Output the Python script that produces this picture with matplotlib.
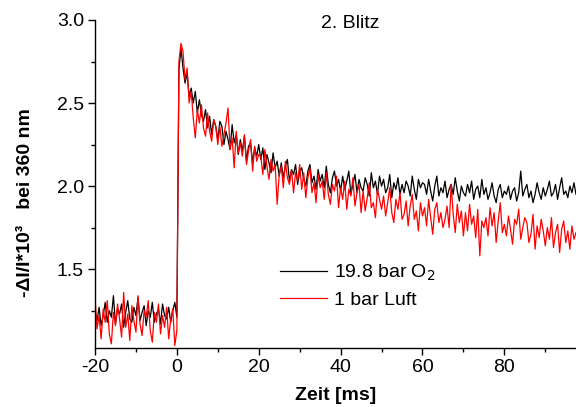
import numpy as np
import matplotlib
matplotlib.use("Agg")
import matplotlib.pyplot as plt
from matplotlib.ticker import MultipleLocator

plt.rcParams['font.family'] = ['Liberation Sans', 'DejaVu Sans']
plt.rcParams['axes.unicode_minus'] = False

# Sampling: 0.5 ms steps, flash at t = 0
dt = 0.5
t_start = -20.0

# Signal values in units of 1e-2 (i.e. 122 -> 1.22)
# Pre-flash baseline, t = -20 ... 0 ms
o2_pre = [124, 119, 127, 116, 122, 130, 118, 125, 121, 134,
          117, 126, 123, 129, 115, 124, 131, 120, 118, 127,
          122, 133, 119, 124, 128, 116, 125, 121, 130, 118,
          123, 126, 117, 129, 122, 120, 127, 118, 125, 130,
          121]
luft_pre = [133, 114, 122, 108, 126, 118, 131, 111, 105, 124,
            116, 129, 120, 109, 136, 115, 123, 107, 128, 119,
            112, 134, 117, 110, 125, 121, 131, 113, 106, 124,
            118, 129, 111, 122, 115, 127, 108, 120, 126, 104,
            113]

# After flash, t = 0.5 ... 97.5 ms
o2_post = [270, 283, 271, 262, 268, 254, 259, 250, 257, 244,
           252, 243, 239, 246, 235, 242, 231, 240, 236, 228,
           239, 236, 225, 233, 228, 222, 237, 226, 231, 219,
           228, 221, 230, 215, 224, 226, 214, 223, 218, 225,
           216, 223, 210, 219, 214, 208, 220, 211, 215, 206,
           214, 205, 212, 216, 203, 210, 207, 213, 201, 209,
           211, 204, 200, 209, 213, 202, 206, 198, 210, 203,
           207, 199, 212, 201, 196, 205, 209, 200, 204, 197,
           206, 198, 203, 209, 195, 201, 207, 196, 204, 199,
           197, 205, 201, 194, 208, 199, 203, 195, 206, 200,
           204, 196, 199, 207, 193, 202, 198, 205, 195, 201,
           196, 203, 200, 194, 206, 198, 192, 204, 199, 202,
           201, 195, 204, 197, 191, 200, 206, 194, 199, 196,
           203, 193, 198, 201, 195, 205, 197, 191, 200, 196,
           194, 201, 196, 203, 192, 198, 200, 193, 204, 195,
           199, 192, 196, 202, 194, 190, 198, 201, 193, 197,
           195, 200, 192, 197, 199, 191, 196, 209, 194, 198,
           201, 193, 197, 190, 195, 202, 196, 192, 199, 194,
           198, 203, 194, 196, 201, 192, 199, 205, 195, 197,
           193, 200, 196, 202, 195]
luft_post = [275, 286, 281, 264, 271, 250, 257, 241, 229, 246,
             238, 249, 235, 230, 244, 233, 227, 240, 236, 225,
             236, 224, 231, 238, 247, 222, 229, 211, 233, 220,
             226, 218, 231, 213, 221, 228, 209, 224, 215, 219,
             218, 207, 222, 212, 204, 216, 209, 213, 189, 207,
             212, 199, 215, 205, 201, 210, 196, 208, 203, 213,
             198, 208, 193, 205, 211, 196, 202, 190, 207, 199,
             203, 192, 208, 195, 189, 201, 197, 206, 187, 199,
             192, 203, 186, 198, 194, 205, 188, 196, 201, 184,
             197, 185, 193, 202, 187, 190, 181, 198, 192, 186,
             194, 182, 190, 199, 184, 178, 192, 186, 196, 180,
             183, 191, 176, 188, 195, 180, 185, 173, 190, 182,
             187, 176, 192, 181, 171, 186, 190, 178, 184, 175,
             180, 188, 175, 201, 183, 172, 189, 178, 185, 170,
             184, 173, 189, 177, 182, 169, 186, 158, 179, 175,
             181, 170, 187, 176, 184, 166, 179, 190, 172, 177,
             170, 182, 174, 165, 180, 177, 186, 168, 175, 181,
             178, 166, 171, 183, 162, 176, 169, 180, 173, 164,
             175, 168, 181, 163, 172, 177, 160, 174, 179, 166,
             173, 162, 176, 168, 172]

series_labels = ["19.8 bar O$_2$", "1 bar Luft"]
series_colors = ["black", "red"]

o2 = np.array(o2_pre + o2_post) / 100.0
luft = np.array(luft_pre + luft_post) / 100.0
t = t_start + dt * np.arange(len(o2))

fig = plt.figure(figsize=(5.76, 4.07), dpi=100)
ax = fig.add_axes([95 / 576, 59 / 407, 1 - 95 / 576, 328 / 407])

ax.plot(t, o2, color=series_colors[0], lw=0.9, label=series_labels[0])
ax.plot(t, luft, color=series_colors[1], lw=0.9, label=series_labels[1])

ax.set_xlim(-20, 97.5)
ax.set_ylim(1.025, 3.0)
ax.xaxis.set_major_locator(MultipleLocator(20))
ax.xaxis.set_minor_locator(MultipleLocator(10))
ax.yaxis.set_major_locator(MultipleLocator(0.5))
ax.yaxis.set_minor_locator(MultipleLocator(0.25))

for side in ("top", "right"):
    ax.spines[side].set_visible(False)
for side in ("left", "bottom"):
    ax.spines[side].set_linewidth(1.0)

ax.tick_params(which="major", direction="out", length=5, width=1.0,
               labelsize=14, pad=3)
ax.tick_params(which="minor", direction="out", length=3, width=1.0)

ax.set_xlabel("Zeit [ms]", fontsize=14, fontweight="bold", labelpad=8)
fig.text(26 / 576, 1 - 203 / 407, "-ΔI/I*10³   bei 360 nm", rotation=90,
         fontsize=14, fontweight="bold", ha="center", va="center")

fig.text(350 / 576, 1 - 24 / 407, "2. Blitz", fontsize=14,
         ha="center", va="center")

ax.legend(loc="upper left", bbox_to_anchor=(280 / 576, 1 - 263 / 407),
          bbox_transform=fig.transFigure, frameon=False, fontsize=14,
          handlelength=2.4, handletextpad=0.4, borderpad=0,
          borderaxespad=0, labelspacing=0.4)

fig.savefig("out.png", dpi=100)
